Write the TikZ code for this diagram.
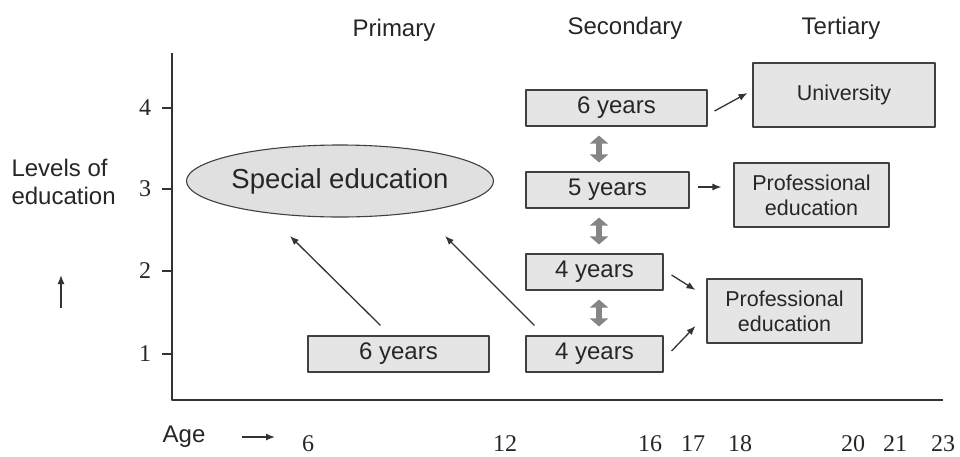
\documentclass[tikz,border=0pt]{standalone}
\usepackage{fontspec}
\setmainfont{Liberation Sans}
\newfontfamily\numfont{Liberation Serif}
\usetikzlibrary{arrows.meta}
\usetikzlibrary{shapes.geometric}
\tikzset{
  yrbox/.style={draw=black!75, fill=black!10, line width=1.1pt, minimum height=36pt,
    inner sep=0pt, text=black!85, font=\fontsize{24}{26}\selectfont},
  tbox/.style={yrbox, minimum height=64pt, align=center, font=\fontsize{21.5}{25}\selectfont},
  conn/.style={draw=black!80, line width=1.3pt, -{Latex[length=9pt,width=7pt]}},
  updown/.style={draw=black!48, line width=6pt,
    {Triangle[width=18pt,length=8pt]}-{Triangle[width=18pt,length=8pt]},
    shorten <=9pt, shorten >=9pt},
  numlbl/.style={text=black!85, font=\numfont\fontsize{24}{26}\selectfont},
  head/.style={text=black!85, font=\fontsize{24}{28}\selectfont},
}
\begin{document}
\begin{tikzpicture}[x=1pt, y=-1pt, line join=round]
  \useasboundingbox (0,0) rectangle (960,456);
  % axes
  \coordinate (ytop) at (172,53);
  \coordinate (orig) at (172,400);
  \coordinate (xend) at (943,400);
  \draw[black!80, line width=1.2pt] (ytop) -- (orig) -- (xend);
  \foreach \lv/\yy in {1/354,2/271,3/189,4/108} {
    \draw[black!80, line width=1.1pt] (162,\yy) -- (172,\yy);
    \node[numlbl] (lv\lv) at (145,\yy) {\lv};
  }
  \foreach \ag/\xx in {6/308,12/505,16/650,17/693,18/740,20/853,21/895,23/943}
    \node[numlbl, anchor=base, inner sep=0pt] (age\ag) at (\xx,451) {\ag};

  % headings and axis titles
  \node[head] (primh) at (394,30) {Primary};
  \node[head] (sech) at (625,28) {Secondary};
  \node[head] (terh) at (841,28) {Tertiary};
  \node[head, anchor=west, align=left] (levels) at (8,182) {Levels of\\education};
  \node[head] (age) at (184,437) {Age};
  \coordinate (agetail) at (242,437);
  \coordinate (agetip) at (275,437);
  \draw[conn] (agetail) -- (agetip);
  \coordinate (uptail) at (61,308);
  \coordinate (uptip) at (61,275);
  \draw[conn] (uptail) -- (uptip);

  % boxes
  \node[yrbox, minimum width=181pt] (prim) at (398.5,354) {6 years};
  \node[yrbox, minimum width=181pt] (s6) at (616.5,108) {6 years};
  \node[yrbox, minimum width=163pt] (s5) at (607.5,190) {5 years};
  \node[yrbox, minimum width=137pt] (s4a) at (594.5,272) {4 years};
  \node[yrbox, minimum width=137pt] (s4b) at (594.5,354) {4 years};
  \node[tbox, minimum width=182pt] (uni) at (844,95) {University};
  \node[tbox, minimum width=155pt] (prof1) at (811.5,195) {Professional\\education};
  \node[tbox, minimum width=155pt] (prof2) at (784.5,311) {Professional\\education};
  \node[ellipse, draw=black!75, fill=black!12, line width=1.1pt, minimum width=284pt,
    minimum height=72pt, inner sep=0pt, text=black!85,
    font=\fontsize{27.5}{30}\selectfont] (special) at (340,181) {Special education};

  % connectors
  \coordinate (spine) at (599,0);
  \draw[updown] (s6.south -| spine) -- (s5.north -| spine);
  \draw[updown] (s5.south -| spine) -- (s4a.north -| spine);
  \draw[updown] (s4a.south -| spine) -- (s4b.north -| spine);
  \coordinate (sp1) at (290,236);
  \coordinate (sp2) at (445,236);
  \draw[conn] ([xshift=-18pt,yshift=10pt]prim.north) -- (sp1);
  \draw[conn] ([xshift=9pt,yshift=10pt]s4b.north west) -- (sp2);
  \draw[conn] ([xshift=7pt,yshift=-3pt]s6.east) -- ([xshift=-5pt,yshift=2pt]uni.west);
  \draw[conn] ([xshift=8pt,yshift=3pt]s5.east) -- ([xshift=-12pt,yshift=8pt]prof1.west);
  \draw[conn] ([xshift=8pt,yshift=-3pt]s4a.east) -- ([xshift=-11pt,yshift=21pt]prof2.west);
  \draw[conn] ([xshift=8pt,yshift=3pt]s4b.east) -- ([xshift=-11pt,yshift=-15pt]prof2.west);
\end{tikzpicture}
\end{document}
